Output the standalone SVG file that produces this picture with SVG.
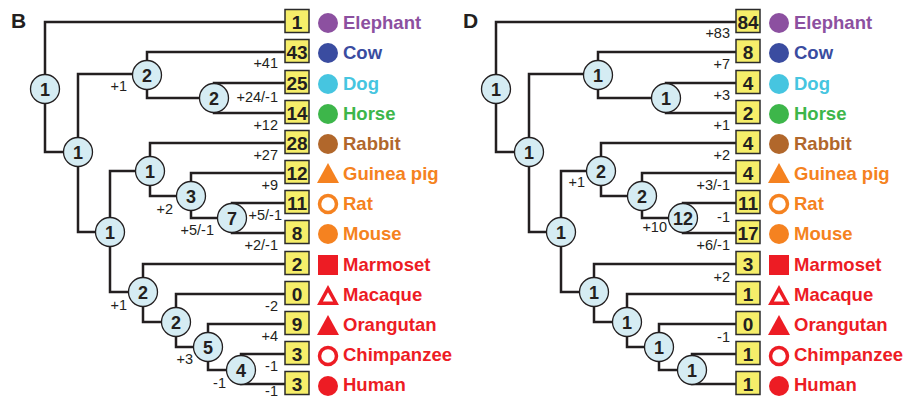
<svg xmlns="http://www.w3.org/2000/svg" xmlns:xlink="http://www.w3.org/1999/xlink" width="906" height="400" viewBox="0 0 906 400">
<style>
.edge{fill:none;stroke:#231f20;stroke-width:2.5;stroke-linejoin:miter}
.node circle{fill:#d5ecf3;stroke:#231f20;stroke-width:1.3}
.nn{font-family:"Liberation Sans",Arial,sans-serif;font-weight:bold;font-size:18px;fill:#231f20;text-anchor:middle}
.box{fill:#f6ee6a;stroke:#2b2b2b;stroke-width:1.5}
.bn{font-family:"Liberation Sans",Arial,sans-serif;font-weight:bold;font-size:19px;fill:#231f20;text-anchor:middle}
.sp{font-family:"Liberation Sans",Arial,sans-serif;font-weight:bold;font-size:18.5px}
.lab{font-family:"Liberation Sans",Arial,sans-serif;font-size:14.5px;fill:#231f20;text-anchor:end}
.panel{font-family:"Liberation Sans",Arial,sans-serif;font-weight:bold;font-size:21px;fill:#231f20}
.purple{fill:#8c50a0}.blue{fill:#3a4ca0}.cyan{fill:#46c5e0}.green{fill:#3db64a}.brown{fill:#b1672b}.orange{fill:#f58220}.red{fill:#ed1c24}
.ringo{fill:none;stroke:#f58220;stroke-width:3.5}.ringr{fill:none;stroke:#ed1c24;stroke-width:3.5}
.otri{fill:none;stroke:#ed1c24;stroke-width:3.5;stroke-linejoin:miter}
</style>
<defs>
<circle id="dot" cx="0" cy="0" r="10"/>
<circle id="ring" cx="0" cy="0" r="8.5"/>
<polygon id="tri" points="0,-10 11,10 -11,10"/>
<polygon id="otri" points="0,-6.4 8,8.25 -8,8.25"/>
<rect id="sq" x="-10" y="-10" width="20" height="20"/>
</defs>

<text class="panel" x="11" y="28">B</text>
<text class="panel" x="463" y="28">D</text>

<!-- connectors -->
<g id="connectors">
<!-- panel B -->
<path class="edge" d="M285,22 H45 V152 H78"/>
<path class="edge" d="M147,74 H78 V232 H110"/>
<path class="edge" d="M285,52 H147 V98 H214"/>
<path class="edge" d="M285,83 H214 V113 H285"/>
<path class="edge" d="M150,171 H110 V292 H143"/>
<path class="edge" d="M285,143 H150 V196 H191"/>
<path class="edge" d="M285,173 H191 V218 H232"/>
<path class="edge" d="M285,203 H232 V233 H285"/>
<path class="edge" d="M285,264 H143 V322 H176"/>
<path class="edge" d="M285,294 H176 V347 H208"/>
<path class="edge" d="M285,324 H208 V370 H241"/>
<path class="edge" d="M285,354 H241 V384 H285"/>
<!-- panel D -->
<path class="edge" d="M736,22 H496 V152 H529"/>
<path class="edge" d="M598,74 H529 V232 H561"/>
<path class="edge" d="M736,52 H598 V98 H666"/>
<path class="edge" d="M736,83 H666 V113 H736"/>
<path class="edge" d="M601,171 H561 V292 H594"/>
<path class="edge" d="M736,143 H601 V196 H642"/>
<path class="edge" d="M736,173 H642 V218 H683"/>
<path class="edge" d="M736,203 H683 V233 H736"/>
<path class="edge" d="M736,264 H594 V322 H627"/>
<path class="edge" d="M736,294 H627 V347 H659"/>
<path class="edge" d="M736,324 H659 V370 H692"/>
<path class="edge" d="M736,354 H692 V384 H736"/>
</g>

<!-- panel B internal nodes -->
<g id="b-n1" class="node"><circle cx="45" cy="89" r="14.5"/><text class="nn" x="45" y="95.5">1</text></g>
<g id="b-n2" class="node"><circle cx="78" cy="152" r="14.5"/><text class="nn" x="78" y="158.5">1</text></g>
<g id="b-n3" class="node"><circle cx="147" cy="75" r="14.5"/><text class="nn" x="147" y="81.5">2</text></g>
<g id="b-n4" class="node"><circle cx="214" cy="98" r="14.5"/><text class="nn" x="214" y="104.5">2</text></g>
<g id="b-n5" class="node"><circle cx="110" cy="232" r="14.5"/><text class="nn" x="110" y="238.5">1</text></g>
<g id="b-n6" class="node"><circle cx="150" cy="171" r="14.5"/><text class="nn" x="150" y="177.5">1</text></g>
<g id="b-n7" class="node"><circle cx="191" cy="196" r="14.5"/><text class="nn" x="191" y="202.5">3</text></g>
<g id="b-n8" class="node"><circle cx="232" cy="218" r="14.5"/><text class="nn" x="232" y="224.5">7</text></g>
<g id="b-n9" class="node"><circle cx="143" cy="292" r="14.5"/><text class="nn" x="143" y="298.5">2</text></g>
<g id="b-n10" class="node"><circle cx="176" cy="322" r="14.5"/><text class="nn" x="176" y="328.5">2</text></g>
<g id="b-n11" class="node"><circle cx="208" cy="347" r="14.5"/><text class="nn" x="208" y="353.5">5</text></g>
<g id="b-n12" class="node"><circle cx="241" cy="370" r="14.5"/><text class="nn" x="241" y="376.5">4</text></g>

<!-- panel D internal nodes -->
<g id="d-n1" class="node"><circle cx="496" cy="89" r="14.5"/><text class="nn" x="496" y="95.5">1</text></g>
<g id="d-n2" class="node"><circle cx="529" cy="152" r="14.5"/><text class="nn" x="529" y="158.5">1</text></g>
<g id="d-n3" class="node"><circle cx="598" cy="75" r="14.5"/><text class="nn" x="598" y="81.5">1</text></g>
<g id="d-n4" class="node"><circle cx="666" cy="98" r="14.5"/><text class="nn" x="666" y="104.5">1</text></g>
<g id="d-n5" class="node"><circle cx="561" cy="232" r="14.5"/><text class="nn" x="561" y="238.5">1</text></g>
<g id="d-n6" class="node"><circle cx="601" cy="171" r="14.5"/><text class="nn" x="601" y="177.5">2</text></g>
<g id="d-n7" class="node"><circle cx="642" cy="196" r="14.5"/><text class="nn" x="642" y="202.5">2</text></g>
<g id="d-n8" class="node"><circle cx="683" cy="218" r="14.5"/><text class="nn" x="683" y="224.5">12</text></g>
<g id="d-n9" class="node"><circle cx="594" cy="292" r="14.5"/><text class="nn" x="594" y="298.5">1</text></g>
<g id="d-n10" class="node"><circle cx="627" cy="322" r="14.5"/><text class="nn" x="627" y="328.5">1</text></g>
<g id="d-n11" class="node"><circle cx="659" cy="347" r="14.5"/><text class="nn" x="659" y="353.5">1</text></g>
<g id="d-n12" class="node"><circle cx="692" cy="370" r="14.5"/><text class="nn" x="692" y="376.5">1</text></g>

<!-- panel B branch labels -->
<g id="b-labels">
<text class="lab" x="127" y="91">+1</text>
<text class="lab" x="278" y="68">+41</text>
<text class="lab" x="278" y="102">+24/-1</text>
<text class="lab" x="278" y="130">+12</text>
<text class="lab" x="278" y="160">+27</text>
<text class="lab" x="278" y="190">+9</text>
<text class="lab" x="173" y="214">+2</text>
<text class="lab" x="282" y="220">+5/-1</text>
<text class="lab" x="214" y="235">+5/-1</text>
<text class="lab" x="278" y="250">+2/-1</text>
<text class="lab" x="127" y="310">+1</text>
<text class="lab" x="278" y="311">-2</text>
<text class="lab" x="278" y="341">+4</text>
<text class="lab" x="193" y="364">+3</text>
<text class="lab" x="278" y="371">-1</text>
<text class="lab" x="226" y="388">-1</text>
<text class="lab" x="278" y="396">-1</text>
</g>

<!-- panel D branch labels -->
<g id="d-labels">
<text class="lab" x="730" y="38">+83</text>
<text class="lab" x="730" y="69">+7</text>
<text class="lab" x="730" y="100">+3</text>
<text class="lab" x="730" y="130">+1</text>
<text class="lab" x="730" y="160">+2</text>
<text class="lab" x="585" y="187">+1</text>
<text class="lab" x="730" y="190">+3/-1</text>
<text class="lab" x="730" y="222">-1</text>
<text class="lab" x="667" y="232">+10</text>
<text class="lab" x="730" y="250">+6/-1</text>
<text class="lab" x="730" y="282">+2</text>
<text class="lab" x="730" y="342">-1</text>
</g>

<!-- panel B leaves -->
<g id="b-elephant"><rect class="box" x="285" y="9.5" width="24" height="23"/><text class="bn" x="297" y="29">1</text><use href="#dot" xlink:href="#dot" x="328" y="23" class="purple"/><text class="sp purple" x="343" y="29">Elephant</text></g>
<g id="b-cow"><rect class="box" x="285" y="39.5" width="24" height="23"/><text class="bn" x="297" y="59">43</text><use href="#dot" xlink:href="#dot" x="328" y="53" class="blue"/><text class="sp blue" x="343" y="59">Cow</text></g>
<g id="b-dog"><rect class="box" x="285" y="70.5" width="24" height="23"/><text class="bn" x="297" y="90">25</text><use href="#dot" xlink:href="#dot" x="328" y="84" class="cyan"/><text class="sp cyan" x="343" y="90">Dog</text></g>
<g id="b-horse"><rect class="box" x="285" y="100.5" width="24" height="23"/><text class="bn" x="297" y="120">14</text><use href="#dot" xlink:href="#dot" x="328" y="114" class="green"/><text class="sp green" x="343" y="120">Horse</text></g>
<g id="b-rabbit"><rect class="box" x="285" y="130.5" width="24" height="23"/><text class="bn" x="297" y="150">28</text><use href="#dot" xlink:href="#dot" x="328" y="144" class="brown"/><text class="sp brown" x="343" y="150">Rabbit</text></g>
<g id="b-guineapig"><rect class="box" x="285" y="160.5" width="24" height="23"/><text class="bn" x="297" y="180">12</text><use href="#tri" xlink:href="#tri" x="328" y="173" class="orange"/><text class="sp orange" x="343" y="180">Guinea pig</text></g>
<g id="b-rat"><rect class="box" x="285" y="190.5" width="24" height="23"/><text class="bn" x="297" y="210">11</text><use href="#ring" xlink:href="#ring" x="328" y="204" class="ringo"/><text class="sp orange" x="343" y="210">Rat</text></g>
<g id="b-mouse"><rect class="box" x="285" y="220.5" width="24" height="23"/><text class="bn" x="297" y="240">8</text><use href="#dot" xlink:href="#dot" x="328" y="234" class="orange"/><text class="sp orange" x="343" y="240">Mouse</text></g>
<g id="b-marmoset"><rect class="box" x="285" y="251.5" width="24" height="23"/><text class="bn" x="297" y="271">2</text><use href="#sq" xlink:href="#sq" x="328" y="265" class="red"/><text class="sp red" x="343" y="271">Marmoset</text></g>
<g id="b-macaque"><rect class="box" x="285" y="281.5" width="24" height="23"/><text class="bn" x="297" y="301">0</text><use href="#otri" xlink:href="#otri" x="328" y="295" class="otri"/><text class="sp red" x="343" y="301">Macaque</text></g>
<g id="b-orangutan"><rect class="box" x="285" y="311.5" width="24" height="23"/><text class="bn" x="297" y="331">9</text><use href="#tri" xlink:href="#tri" x="328" y="325" class="red"/><text class="sp red" x="343" y="331">Orangutan</text></g>
<g id="b-chimpanzee"><rect class="box" x="285" y="341.5" width="24" height="23"/><text class="bn" x="297" y="361">3</text><use href="#ring" xlink:href="#ring" x="328" y="356" class="ringr"/><text class="sp red" x="343" y="361">Chimpanzee</text></g>
<g id="b-human"><rect class="box" x="285" y="371.5" width="24" height="23"/><text class="bn" x="297" y="391">3</text><use href="#dot" xlink:href="#dot" x="328" y="386" class="red"/><text class="sp red" x="343" y="391">Human</text></g>

<!-- panel D leaves -->
<g id="d-elephant"><rect class="box" x="736" y="9.5" width="24" height="23"/><text class="bn" x="748" y="29">84</text><use href="#dot" xlink:href="#dot" x="779" y="23" class="purple"/><text class="sp purple" x="794" y="29">Elephant</text></g>
<g id="d-cow"><rect class="box" x="736" y="39.5" width="24" height="23"/><text class="bn" x="748" y="59">8</text><use href="#dot" xlink:href="#dot" x="779" y="53" class="blue"/><text class="sp blue" x="794" y="59">Cow</text></g>
<g id="d-dog"><rect class="box" x="736" y="70.5" width="24" height="23"/><text class="bn" x="748" y="90">4</text><use href="#dot" xlink:href="#dot" x="779" y="84" class="cyan"/><text class="sp cyan" x="794" y="90">Dog</text></g>
<g id="d-horse"><rect class="box" x="736" y="100.5" width="24" height="23"/><text class="bn" x="748" y="120">2</text><use href="#dot" xlink:href="#dot" x="779" y="114" class="green"/><text class="sp green" x="794" y="120">Horse</text></g>
<g id="d-rabbit"><rect class="box" x="736" y="130.5" width="24" height="23"/><text class="bn" x="748" y="150">4</text><use href="#dot" xlink:href="#dot" x="779" y="144" class="brown"/><text class="sp brown" x="794" y="150">Rabbit</text></g>
<g id="d-guineapig"><rect class="box" x="736" y="160.5" width="24" height="23"/><text class="bn" x="748" y="180">4</text><use href="#tri" xlink:href="#tri" x="779" y="173" class="orange"/><text class="sp orange" x="794" y="180">Guinea pig</text></g>
<g id="d-rat"><rect class="box" x="736" y="190.5" width="24" height="23"/><text class="bn" x="748" y="210">11</text><use href="#ring" xlink:href="#ring" x="779" y="204" class="ringo"/><text class="sp orange" x="794" y="210">Rat</text></g>
<g id="d-mouse"><rect class="box" x="736" y="220.5" width="24" height="23"/><text class="bn" x="748" y="240">17</text><use href="#dot" xlink:href="#dot" x="779" y="234" class="orange"/><text class="sp orange" x="794" y="240">Mouse</text></g>
<g id="d-marmoset"><rect class="box" x="736" y="251.5" width="24" height="23"/><text class="bn" x="748" y="271">3</text><use href="#sq" xlink:href="#sq" x="779" y="265" class="red"/><text class="sp red" x="794" y="271">Marmoset</text></g>
<g id="d-macaque"><rect class="box" x="736" y="281.5" width="24" height="23"/><text class="bn" x="748" y="301">1</text><use href="#otri" xlink:href="#otri" x="779" y="295" class="otri"/><text class="sp red" x="794" y="301">Macaque</text></g>
<g id="d-orangutan"><rect class="box" x="736" y="311.5" width="24" height="23"/><text class="bn" x="748" y="331">0</text><use href="#tri" xlink:href="#tri" x="779" y="325" class="red"/><text class="sp red" x="794" y="331">Orangutan</text></g>
<g id="d-chimpanzee"><rect class="box" x="736" y="341.5" width="24" height="23"/><text class="bn" x="748" y="361">1</text><use href="#ring" xlink:href="#ring" x="779" y="356" class="ringr"/><text class="sp red" x="794" y="361">Chimpanzee</text></g>
<g id="d-human"><rect class="box" x="736" y="371.5" width="24" height="23"/><text class="bn" x="748" y="391">1</text><use href="#dot" xlink:href="#dot" x="779" y="386" class="red"/><text class="sp red" x="794" y="391">Human</text></g>
</svg>
